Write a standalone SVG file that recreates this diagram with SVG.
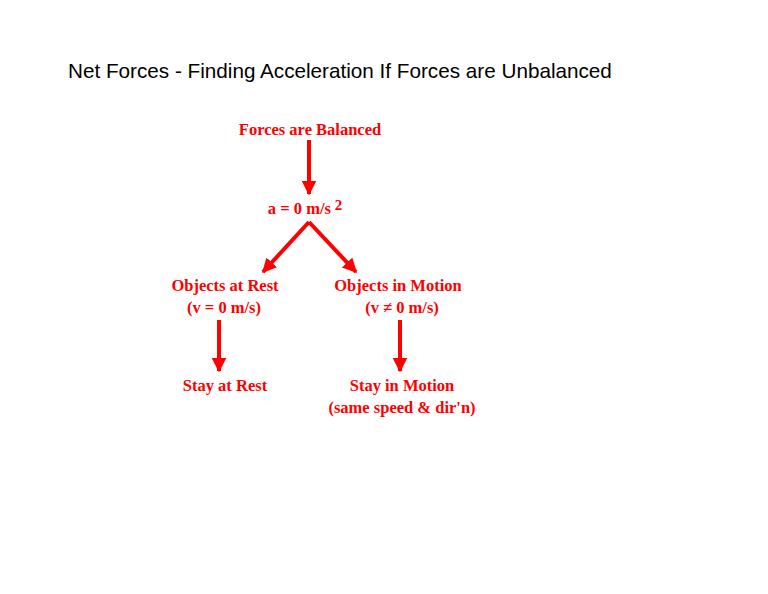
<svg xmlns="http://www.w3.org/2000/svg" width="768" height="594" viewBox="0 0 768 594">
<defs>
<marker id="ah" viewBox="0 0 10 10" refX="9" refY="5" markerWidth="3.6" markerHeight="3.6" orient="auto" markerUnits="strokeWidth"><path d="M0,0 L10,5 L0,10 Z" fill="#ff0000"/></marker>
</defs>
<style>
.t{font-family:"Liberation Serif",serif;font-weight:bold;font-size:16.5px;fill:#ff0000;text-anchor:middle}
.c{stroke:#ff0000;stroke-width:4;fill:none;marker-end:url(#ah)}
</style>
<rect width="768" height="594" fill="#fff"/>
<text x="68" y="78" font-family="Liberation Sans,sans-serif" font-size="20.7" fill="#000">Net Forces - Finding Acceleration If Forces are Unbalanced</text>
<g id="connectors">
<line class="c" x1="309" y1="140" x2="309" y2="194"/>
<line class="c" x1="309" y1="222" x2="263" y2="272"/>
<line class="c" x1="309" y1="222" x2="356" y2="272"/>
<line class="c" x1="219" y1="320" x2="219" y2="371"/>
<line class="c" x1="400" y1="320" x2="400" y2="371"/>
</g>
<g id="balanced"><text class="t" x="310" y="135">Forces are Balanced</text></g>
<g id="accel"><text class="t" x="305" y="214">a = 0 m/s<tspan font-size="15" dy="-4"> 2</tspan></text></g>
<g id="rest"><text class="t" x="225" y="291">Objects at Rest</text><text class="t" x="224" y="313">(v = 0 m/s)</text></g>
<g id="motion"><text class="t" x="398" y="291">Objects in Motion</text><text class="t" x="402" y="313">(v ≠ 0 m/s)</text></g>
<g id="stayrest"><text class="t" x="225" y="391">Stay at Rest</text></g>
<g id="staymotion"><text class="t" x="402" y="391">Stay in Motion</text><text class="t" x="402" y="413">(same speed &amp; dir'n)</text></g>
</svg>
